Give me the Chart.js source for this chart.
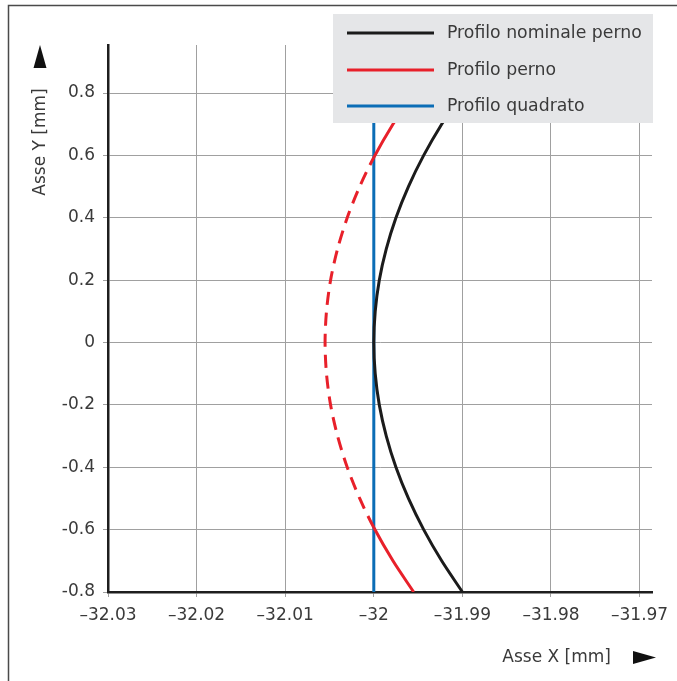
<!DOCTYPE html>
<html>
<head>
<meta charset="utf-8">
<script src="https://cdn.jsdelivr.net/npm/chart.js@4"></script>
<style>
html,body{margin:0;padding:0;background:#fff;}
canvas{display:block;}
</style>
</head>
<body>
<canvas id="c" width="677" height="681"></canvas>
<script>
// ---- data ----
const seriesNames = ['Profilo nominale perno', 'Profilo perno', 'Profilo quadrato'];
const nominalY = [-0.8, -0.7, -0.6, -0.5, -0.4, -0.3, -0.2, -0.1, 0, 0.1, 0.2, 0.3, 0.4, 0.5, 0.6, 0.7, 0.8, 0.9, 0.96];
const nominalX = [-31.99, -31.99234, -31.99437, -31.99609, -31.9975, -31.99859, -31.99938, -31.99984, -32.0, -31.99984, -31.99938, -31.99859, -31.9975, -31.99609, -31.99437, -31.99234, -31.99, -31.98734, -31.9856];
const pinY = [-0.8, -0.7, -0.5933, -0.5, -0.4, -0.3, -0.2, -0.1, 0, 0.1, 0.2, 0.3, 0.4, 0.5, 0.5933, 0.7, 0.8, 0.9, 0.96];
const pinX = [-31.9955, -31.99784, -32.0, -32.00159, -32.003, -32.00409, -32.00488, -32.00534, -32.0055, -32.00534, -32.00488, -32.00409, -32.003, -32.00159, -32.0, -31.99784, -31.9955, -31.99284, -31.9911];
const squareY = [-0.8, 0.96];
const squareX = [-32.0, -32.0];
const xTicks = [-32.03, -32.02, -32.01, -32.0, -31.99, -31.98, -31.97];
const xTickLabels = ['–32.03', '–32.02', '–32.01', '–32', '–31.99', '–31.98', '–31.97'];
const yTicks = [-0.8, -0.6, -0.4, -0.2, 0, 0.2, 0.4, 0.6, 0.8];
const yTickLabels = ['-0.8', '-0.6', '-0.4', '-0.2', '0', '0.2', '0.4', '0.6', '0.8'];
const xTitle = 'Asse X [mm]';
const yTitle = 'Asse Y [mm]';

const colors = ['#1b1b1b', '#e8202a', '#0b6db6'];
const FONT = '"DejaVu Sans", sans-serif';
const TXT = '#3a3a3a';

const pts = (xs, ys) => xs.map((x, i) => ({x: x, y: ys[i]}));

const decor = {
  id: 'decor',
  afterDraw(chart) {
    const ctx = chart.ctx;
    ctx.save();
    // frame
    ctx.strokeStyle = '#4a4a4a';
    ctx.lineWidth = 1.5;
    ctx.beginPath();
    ctx.moveTo(8.5, 681);
    ctx.lineTo(8.5, 5.5);
    ctx.lineTo(677, 5.5);
    ctx.stroke();
    // axis titles
    ctx.fillStyle = TXT;
    ctx.font = '17px ' + FONT;
    ctx.textBaseline = 'middle';
    ctx.textAlign = 'right';
    ctx.fillText(xTitle, 611, 658);
    ctx.save();
    ctx.translate(41, 142);
    ctx.rotate(-Math.PI / 2);
    ctx.textAlign = 'center';
    ctx.fillText(yTitle, 0, 0);
    ctx.restore();
    // arrows
    ctx.fillStyle = '#111';
    ctx.beginPath();
    ctx.moveTo(633, 651); ctx.lineTo(633, 664); ctx.lineTo(656, 657.5); ctx.closePath();
    ctx.fill();
    ctx.beginPath();
    ctx.moveTo(33.5, 68); ctx.lineTo(46.5, 68); ctx.lineTo(40, 45); ctx.closePath();
    ctx.fill();
    // legend
    ctx.fillStyle = '#e5e6e8';
    ctx.fillRect(333, 14, 320, 109);
    ctx.font = '17.3px ' + FONT;
    const rows = [33, 70, 106];
    chart.data.datasets.forEach((ds, i) => {
      ctx.strokeStyle = ds.borderColor;
      ctx.lineWidth = 3;
      ctx.setLineDash([]);
      ctx.beginPath();
      ctx.moveTo(347, rows[i]);
      ctx.lineTo(434, rows[i]);
      ctx.stroke();
      ctx.fillStyle = TXT;
      ctx.textAlign = 'left';
      ctx.fillText(ds.label, 447, rows[i] + 1);
    });
    ctx.restore();
  }
};

new Chart(document.getElementById('c'), {
  type: 'scatter',
  data: {
    datasets: [
      {label: seriesNames[0], data: pts(nominalX, nominalY), showLine: true, borderColor: colors[0], borderWidth: 3, pointRadius: 0, tension: 0.3},
      {label: seriesNames[1], data: pts(pinX, pinY), showLine: true, borderColor: colors[1], borderWidth: 3, pointRadius: 0, tension: 0.3,
        segment: {borderDash: c => (Math.max(c.p0.parsed.x, c.p1.parsed.x) <= -32 + 1e-9 ? [13, 8] : undefined)}},
      {label: seriesNames[2], data: pts(squareX, squareY), showLine: true, borderColor: colors[2], borderWidth: 3, pointRadius: 0}
    ]
  },
  options: {
    responsive: false,
    animation: false,
    events: [],
    layout: {padding: {top: 45, right: 25, left: 0, bottom: 0}},
    plugins: {legend: {display: false}, tooltip: {enabled: false}},
    scales: {
      x: {
        type: 'linear', min: -32.03, max: -31.9686,
        afterBuildTicks: s => { s.ticks = xTicks.map(v => ({value: v})); },
        afterFit: s => { s.height = 89; },
        grid: {color: '#a0a0a0', lineWidth: 1, tickLength: 5},
        border: {color: '#1e1e1e', width: 2.5},
        ticks: {color: TXT, font: {family: FONT, size: 17}, padding: 8, maxRotation: 0, autoSkip: false,
          callback: (v, i) => xTickLabels[i]}
      },
      y: {
        type: 'linear', min: -0.8, max: 0.954,
        afterBuildTicks: s => { s.ticks = yTicks.map(v => ({value: v})); },
        afterFit: s => { s.width = 108; },
        grid: {color: '#a0a0a0', lineWidth: 1, tickLength: 5},
        border: {color: '#1e1e1e', width: 2.5},
        ticks: {color: TXT, font: {family: FONT, size: 17}, padding: 8, autoSkip: false,
          callback: (v, i) => yTickLabels[i]}
      }
    }
  },
  plugins: [decor]
});
</script>
</body>
</html>
